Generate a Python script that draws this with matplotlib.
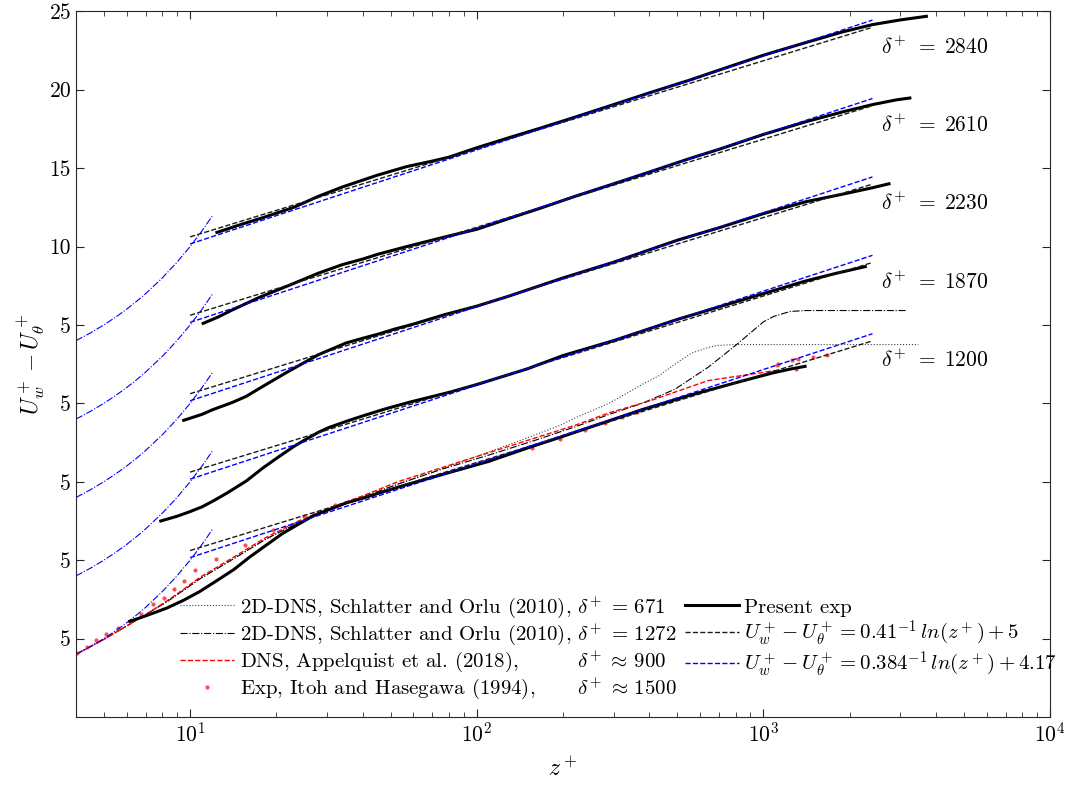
import matplotlib
matplotlib.use("Agg")
import matplotlib.pyplot as plt
import numpy as np

plt.rcParams['font.family'] = 'serif'
plt.rcParams['font.serif'] = ['cmr10']
plt.rcParams['mathtext.fontset'] = 'cm'
plt.rcParams['axes.unicode_minus'] = False
plt.rcParams['axes.formatter.use_mathtext'] = True

# ---- data (raw U+_w - U+_theta values, each profile shifted down by its offset) ----
deltas = [2840, 2610, 2230, 1870, 1200]
offsets = [0, -5, -10, -15, -20]

z_2840 = [12.4, 15, 18, 23, 28, 34, 45, 57, 70, 80, 100, 130, 170, 220, 300, 400, 550, 700,
          1000, 1400, 1900, 2400, 3000, 3700]
U_2840 = [10.9, 11.4, 11.85, 12.5, 13.2, 13.8, 14.55, 15.1, 15.45, 15.7, 16.3, 16.95, 17.6, 18.25,
          19.05, 19.8, 20.6, 21.25, 22.2, 23.0, 23.7, 24.15, 24.45, 24.68]

z_2610 = [11.1, 12.5, 14, 17.4, 20, 23, 28, 34, 40, 45, 57, 75, 100, 130, 170, 220, 300, 400, 550,
          700, 1000, 1400, 1900, 2400, 2900, 3240]
U_2610 = [10.1, 10.5, 10.95, 11.75, 12.2, 12.65, 13.3, 13.85, 14.2, 14.5, 15.0, 15.55, 16.1, 16.8,
          17.5, 18.2, 19.0, 19.75, 20.6, 21.2, 22.15, 22.95, 23.6, 24.05, 24.35, 24.47]

z_2230 = [9.5, 11, 12, 14, 15.7, 18, 21.6, 25, 28, 32, 35, 40, 45, 52, 60, 77, 100, 130, 200, 300,
          500, 700, 1000, 1400, 1900, 2400, 2740]
U_2230 = [8.92, 9.3, 9.6, 10.05, 10.45, 11.1, 11.95, 12.6, 13.1, 13.55, 13.85, 14.15, 14.4, 14.75,
          15.05, 15.65, 16.2, 16.85, 18.0, 19.0, 20.4, 21.2, 22.1, 22.85, 23.35, 23.75, 24.0]

z_1870 = [7.9, 9, 10, 11, 12.1, 13.5, 15.7, 18, 20.4, 23, 25.3, 28, 30.4, 35, 40, 48, 59, 80, 100,
          150, 200, 300, 500, 700, 1000, 1400, 1800, 2265]
U_1870 = [7.5, 7.8, 8.1, 8.4, 8.8, 9.3, 10.05, 10.9, 11.6, 12.25, 12.7, 13.15, 13.45, 13.85, 14.2,
          14.65, 15.1, 15.7, 16.2, 17.2, 18.05, 19.0, 20.35, 21.15, 22.0, 22.8, 23.3, 23.72]

z_1200 = [6.16, 7, 8.3, 9.5, 10.8, 12.4, 14.2, 16, 18.4, 21, 23.9, 27, 31.3, 35, 40, 46, 53, 77,
          110, 150, 200, 280, 377, 550, 832, 1082, 1250, 1397]
U_1200 = [6.1, 6.45, 6.95, 7.45, 8.0, 8.7, 9.4, 10.15, 10.95, 11.7, 12.3, 12.85, 13.3, 13.65, 13.95,
          14.3, 14.65, 15.5, 16.3, 17.15, 17.9, 18.8, 19.6, 20.5, 21.4, 21.95, 22.2, 22.36]

exp_z = [z_2840, z_2610, z_2230, z_1870, z_1200]
exp_U = [U_2840, U_2610, U_2230, U_1870, U_1200]

# 2D-DNS Schlatter and Orlu, delta+ = 671
dns671_z = [4, 5, 6.2, 8.3, 10.8, 14.2, 18.4, 23.9, 31.3, 53, 77, 110, 150, 195, 222, 289, 377,
            431, 491, 560, 638, 690, 800, 3470]
dns671_U = [4.0, 4.95, 5.95, 7.35, 8.8, 10.1, 11.35, 12.4, 13.3, 14.85, 15.9, 16.9, 17.8, 18.6,
            19.1, 20.0, 21.2, 21.75, 22.5, 23.2, 23.55, 23.7, 23.75, 23.75]

# 2D-DNS Schlatter and Orlu, delta+ = 1272
dns1272_z = [4, 5, 6.2, 8.3, 10.8, 14.2, 18.4, 23.9, 31.3, 53, 77, 110, 157, 220, 290, 377, 491,
             641, 800, 1000, 1087, 1239, 1400, 3160]
dns1272_U = [4.0, 4.95, 5.95, 7.35, 8.8, 10.1, 11.35, 12.4, 13.3, 14.85, 15.85, 16.7, 17.6, 18.5,
             19.3, 20.0, 20.9, 22.3, 23.7, 25.2, 25.55, 25.86, 25.92, 25.92]

# DNS Appelquist et al. (2018)
app_z = [4, 5, 6.2, 7.3, 8.3, 9.5, 10.8, 12.4, 14.2, 18.4, 23.9, 31.3, 40, 53, 77, 110, 157, 220,
         290, 400, 641, 977, 1100]
app_U = [4.0, 4.95, 5.95, 6.75, 7.4, 8.15, 8.9, 9.55, 10.2, 11.45, 12.5, 13.4, 14.1, 15.0, 15.95,
         16.85, 17.75, 18.6, 19.4, 20.15, 21.45, 21.95, 22.1]

# Exp Itoh and Hasegawa (1994)
itoh_z = [4.02, 4.36, 4.71, 5.1, 5.6, 6.15, 6.74, 7.4, 8.1, 8.78, 9.5, 10.4, 12.3, 15.5, 19.5, 25,
          32, 43, 69, 110, 156, 195, 239, 280, 321, 362, 1114, 1128, 1256, 1300, 1324, 1490, 1660]
itoh_U = [4.1, 4.47, 4.89, 5.27, 5.68, 6.1, 6.59, 7.18, 7.58, 8.17, 8.66, 9.4, 10.08, 11.0, 11.9,
          12.8, 13.5, 14.15, 15.28, 16.4, 17.14, 17.71, 18.31, 18.76, 19.16, 19.48, 22.44, 22.5,
          22.74, 22.2, 22.85, 22.97, 23.06]

# viscous sublayer U+ = z+
lam_z = [4, 4.5, 5, 5.5, 6, 6.5, 7, 8, 9, 10, 11, 12]
lam_U = [4, 4.5, 5, 5.5, 6, 6.5, 7, 8, 9, 10, 11, 12]

# log laws
log_z = [10, 2400]
kappa = [0.41, 0.384]
B = [5, 4.17]

ref_names = ['2D-DNS, Schlatter and Orlu (2010),', '2D-DNS, Schlatter and Orlu (2010),',
             'DNS, Appelquist et al. (2018),', 'Exp, Itoh and Hasegawa (1994),']
ref_deltas = [r'\delta^{\!+}\,=\,671', r'\delta^{\!+}\,=\,1272', r'\delta^{\!+}\,\approx\,900',
              r'\delta^{\!+}\,\approx\,1500']

fig = plt.figure(figsize=(10.74, 7.85), dpi=100)
ax = fig.add_axes([0.0708, 0.0866, 0.907, 0.899])

# line the delta parts of the legend labels up in one column
leg_fs = 15
renderer = fig.canvas.get_renderer()


def text_width(s):
    t = ax.text(0, 0, s, fontsize=leg_fs)
    w = t.get_window_extent(renderer).width
    t.remove()
    return w


em_px = leg_fs * fig.dpi / 72
unit = (text_width(r'$x\hspace{10}x$') - text_width(r'$xx$')) / 10
name_w = [text_width(n + r'$x$') - text_width(r'$x$') for n in ref_names]
target_w = max(name_w) + 0.3 * em_px
labels = [n + r'$\hspace{%.3f}%s$' % ((target_w - w) / unit, d)
          for n, w, d in zip(ref_names, name_w, ref_deltas)]

ax.plot(dns671_z, np.array(dns671_U) - 20, ':', color=(0.25, 0.25, 0.25), lw=0.8, label=labels[0])
ax.plot(dns1272_z, np.array(dns1272_U) - 20, '-.', color='k', lw=0.8, label=labels[1])
ax.plot(app_z, np.array(app_U) - 20, '--', color='r', lw=1.0, label=labels[2])
ax.plot(itoh_z, np.array(itoh_U) - 20, '.', color=(1, 0.3, 0.3), ms=4, label=labels[3])

lz = np.array(log_z, dtype=float)
for i, off in enumerate(offsets):
    ax.plot(lam_z, np.array(lam_U) + off, '-.', color='b', lw=0.8)
    ax.plot(exp_z[i], np.array(exp_U[i]) + off, '-', color='k', lw=2.2,
            label='Present exp' if i == 0 else None)
    ax.plot(lz, np.log(lz) / kappa[0] + B[0] + off, '--', color=(0.1, 0.1, 0.1), lw=1.0,
            label=r'$U_w^+ - U_\theta^+ = 0.41^{-1}\, ln(z^+) + 5$' if i == 0 else None)
    ax.plot(lz, np.log(lz) / kappa[1] + B[1] + off, '--', color='b', lw=1.0,
            label=r'$U_w^+ - U_\theta^+ = 0.384^{-1}\, ln(z^+) + 4.17$' if i == 0 else None)
    ax.text(2560, 22.75 + off, r'$\delta^{\!+}\;=\;%d$' % deltas[i], fontsize=15.5,
            va='center', ha='left')

ax.set_xscale('log')
ax.set_xlim(4, 1e4)
ax.set_ylim(-20, 25)
ax.set_yticks([-15, -10, -5, 0, 5, 10, 15, 20, 25])
ax.set_yticklabels(['5', '5', '5', '5', '5', '10', '15', '20', '25'])
ax.tick_params(which='both', direction='in', top=True, right=True, labelsize=15.5, colors=(0.15, 0.15, 0.15))
ax.tick_params(which='major', length=6)
ax.tick_params(which='minor', length=3.5)
for sp in ax.spines.values():
    sp.set_color((0.15, 0.15, 0.15))
    sp.set_linewidth(0.8)
ax.tick_params(axis='both', labelcolor='k')

ax.set_xlabel(r'$z^+$', fontsize=17, labelpad=8)
ax.set_ylabel(r'$U_w^+ - U_\theta^+$', fontsize=17, labelpad=2)

leg = ax.legend(ncol=2, loc='lower left', bbox_to_anchor=(0.107, 0.022), frameon=False,
                fontsize=leg_fs, handlelength=2.6, handletextpad=0.25, columnspacing=0.4,
                labelspacing=0.1, borderpad=0, borderaxespad=0)

fig.savefig('out.png', dpi=100)
